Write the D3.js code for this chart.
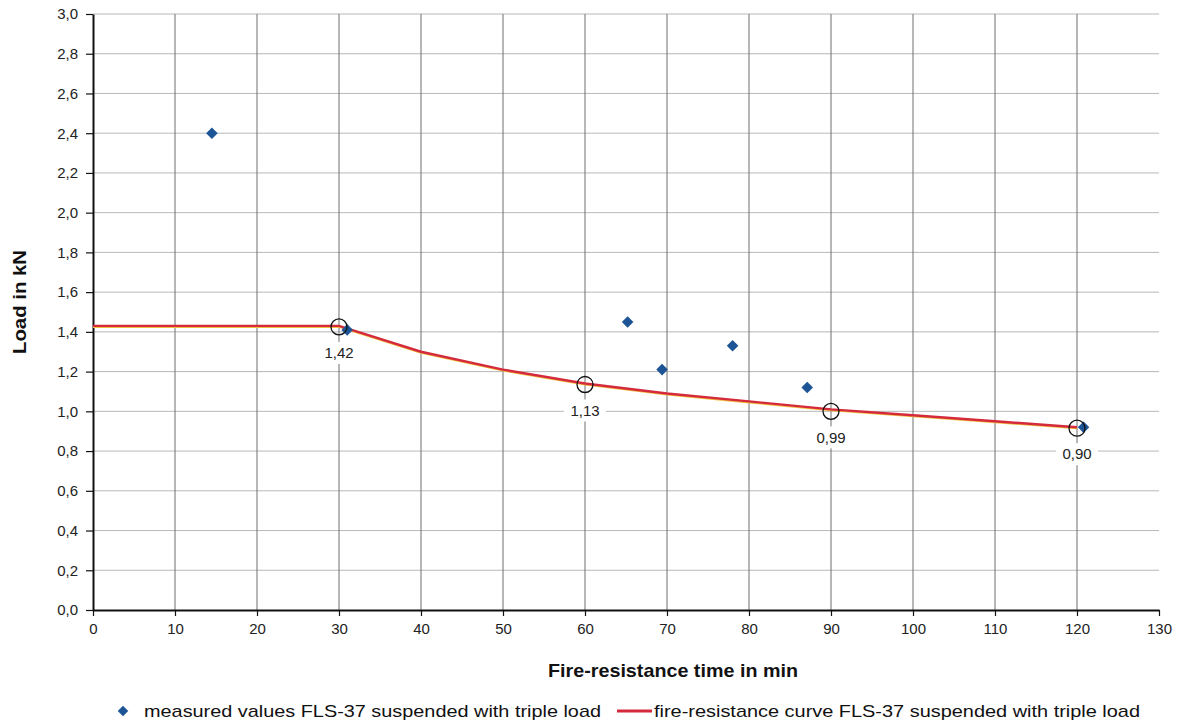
<!DOCTYPE html>
<html><head><meta charset="utf-8">
<script src="https://cdn.jsdelivr.net/npm/d3@7"></script>
<style>body{margin:0;background:#fff}svg{display:block;font-family:"Liberation Sans",Arial,sans-serif}</style>
</head><body><svg id="c" width="1187" height="725"></svg>
<script>
const measuredX = [14.5, 31.0, 65.2, 69.4, 78.0, 87.1, 120.8];
const measuredY = [2.40, 1.41, 1.45, 1.21, 1.33, 1.12, 0.92];
const curveX = [0, 30, 40, 50, 60, 70, 80, 90, 100, 110, 120];
const curveY = [1.43, 1.43, 1.30, 1.21, 1.14, 1.09, 1.05, 1.01, 0.98, 0.95, 0.92];
const markX = [30, 60, 90, 120];
const markY = [1.425, 1.135, 1.00, 0.915];
const markLabels = ["1,42", "1,13", "0,99", "0,90"];
const xTicks = d3.range(0, 131, 10);
const yTicks = d3.range(0, 3.01, 0.2);
const seriesNames = ["measured values FLS-37 suspended with triple load", "fire-resistance curve FLS-37 suspended with triple load"];

const svg = d3.select("#c");
const L = 93, R = 1159, T = 14, B = 610;
const x = d3.scaleLinear().domain([0, 130]).range([L, R]);
const y = d3.scaleLinear().domain([0, 3]).range([B, T]);
const fmt = v => d3.format(".1f")(v).replace(".", ",");

// horizontal gridlines
svg.append("g").selectAll("line").data(yTicks.filter(d => d > 0.01)).join("line")
  .attr("x1", L).attr("x2", R).attr("y1", d => y(d)).attr("y2", d => y(d))
  .attr("stroke", "#b8b8b8").attr("stroke-width", 1);
// vertical gridlines
svg.append("g").selectAll("line").data(xTicks.filter(d => d > 0 && d < 130)).join("line")
  .attr("x1", d => x(d)).attr("x2", d => x(d)).attr("y1", T).attr("y2", B)
  .attr("stroke", "#6e6e6e").attr("stroke-width", 1);

// axes
const xa = svg.append("g").attr("transform", `translate(0,${B})`)
  .call(d3.axisBottom(x).tickValues(xTicks).tickSize(6).tickSizeOuter(0).tickPadding(7).tickFormat(d => d));
const ya = svg.append("g").attr("transform", `translate(${L},0)`)
  .call(d3.axisLeft(y).tickValues(yTicks).tickSize(7).tickSizeOuter(0).tickPadding(8).tickFormat(fmt));
[xa, ya].forEach(a => {
  a.select(".domain").attr("stroke", "#111").attr("stroke-width", 2);
  a.selectAll(".tick line").attr("stroke", "#111").attr("stroke-width", 1.2);
  a.selectAll("text").attr("font-size", 15).attr("fill", "#222").attr("font-family", "Liberation Sans, Arial, sans-serif");
});

// curve
const pts = curveX.map((d, i) => [d, curveY[i]]);
const line = d3.line().x(d => x(d[0])).y(d => y(d[1]));
svg.append("path").datum(pts).attr("d", line).attr("fill", "none")
  .attr("stroke", "#f0c040").attr("stroke-width", 2).attr("transform", "translate(0,1)");
svg.append("path").datum(pts).attr("d", line).attr("fill", "none")
  .attr("stroke", "#d42a3c").attr("stroke-width", 2.4);

// measured diamonds
const diamond = d3.symbol().type(d3.symbolDiamond2).size(85);
svg.append("g").selectAll("path").data(measuredX.map((d, i) => [d, measuredY[i]])).join("path")
  .attr("d", diamond).attr("transform", d => `translate(${x(d[0])},${y(d[1])})`)
  .attr("fill", "#1d5496");

// marker circles and labels
const marks = markX.map((d, i) => ({x: d, y: markY[i], t: markLabels[i]}));
svg.append("g").selectAll("circle").data(marks).join("circle")
  .attr("cx", d => x(d.x)).attr("cy", d => y(d.y)).attr("r", 8)
  .attr("fill", "none").attr("stroke", "#111").attr("stroke-width", 1.3);
const lg = svg.append("g").selectAll("g").data(marks).join("g")
  .attr("transform", d => `translate(${x(d.x)},${y(d.y) + 26})`);
lg.append("rect").attr("x", -21).attr("y", -11).attr("width", 42).attr("height", 22).attr("fill", "#fff");
lg.append("text").attr("text-anchor", "middle").attr("dy", "0.35em").attr("font-size", 15).attr("fill", "#222").text(d => d.t);

// axis titles
svg.append("text").attr("x", 673).attr("y", 677).attr("text-anchor", "middle")
  .attr("font-size", 19).attr("font-weight", "bold").attr("fill", "#111")
  .attr("textLength", 250).attr("lengthAdjust", "spacingAndGlyphs").text("Fire-resistance time in min");
svg.append("text").attr("transform", "translate(26,302) rotate(-90)").attr("text-anchor", "middle")
  .attr("font-size", 18).attr("font-weight", "bold").attr("fill", "#111")
  .attr("textLength", 104).attr("lengthAdjust", "spacingAndGlyphs").text("Load in kN");

// legend
const leg = svg.append("g");
leg.append("path").attr("d", d3.symbol().type(d3.symbolDiamond2).size(70)).attr("transform", "translate(123,711)").attr("fill", "#1d5496");
leg.append("text").attr("x", 144).attr("y", 711).attr("dy", "0.35em").attr("font-size", 17).attr("fill", "#111")
  .attr("textLength", 457).attr("lengthAdjust", "spacingAndGlyphs").text(seriesNames[0]);
leg.append("line").attr("x1", 617).attr("x2", 652).attr("y1", 711).attr("y2", 711).attr("stroke", "#d42a3c").attr("stroke-width", 3);
leg.append("text").attr("x", 654).attr("y", 711).attr("dy", "0.35em").attr("font-size", 17).attr("fill", "#111")
  .attr("textLength", 486).attr("lengthAdjust", "spacingAndGlyphs").text(seriesNames[1]);
</script></body></html>
